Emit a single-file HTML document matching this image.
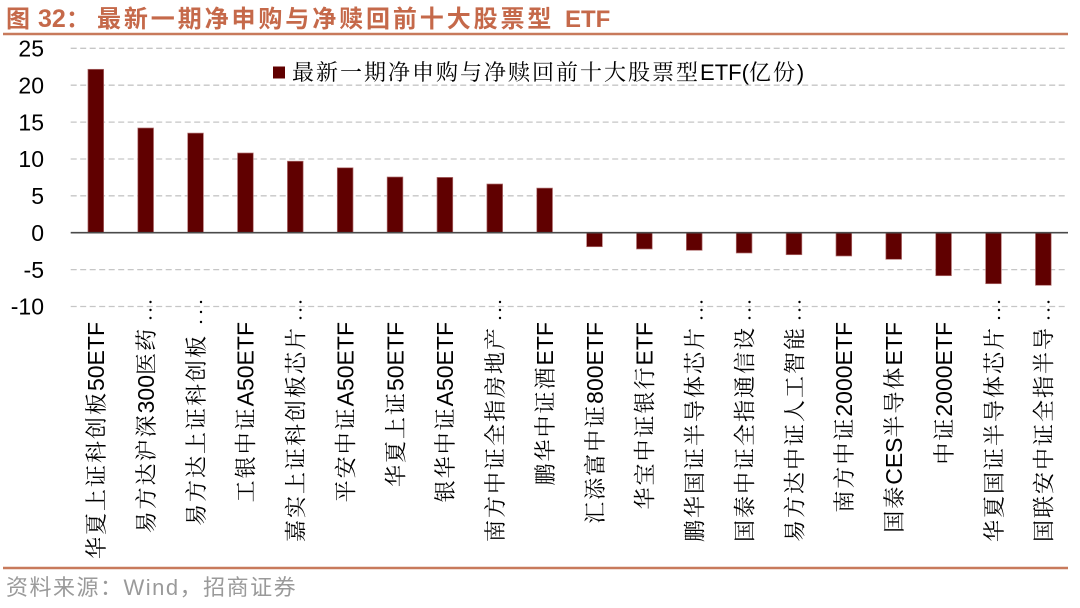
<!DOCTYPE html>
<html>
<head>
<meta charset="utf-8">
<style>
  html,body{margin:0;padding:0;background:#fff;}
  svg{display:block;}
  .lbl{font-family:"Liberation Sans","Noto Serif CJK SC","Noto Serif CJK JP","Noto Serif CJK",serif;font-size:23px;fill:#000;}
  .c{font-family:"Noto Serif CJK SC","Noto Serif CJK JP","Noto Serif CJK","Liberation Serif",serif;font-size:22px;letter-spacing:2px;}
  .yl{font-family:"Liberation Sans",sans-serif;font-size:23px;fill:#000;}
  .leg{font-family:"Liberation Sans","Noto Serif CJK SC","Noto Serif CJK JP",serif;font-size:22px;fill:#000;}
  .tt{font-family:"Liberation Sans","Noto Sans CJK SC",sans-serif;font-weight:bold;fill:#C5694A;}
  .src{font-family:"Liberation Sans","Noto Sans CJK SC",sans-serif;font-size:22px;fill:#9a9a9a;letter-spacing:1.5px;}
</style>
</head>
<body>
<svg width="1080" height="608" viewBox="0 0 1080 608" xmlns="http://www.w3.org/2000/svg">
  <rect width="1080" height="608" fill="#fff"/>

  <!-- Title -->
  <text class="tt" x="6" y="27" font-size="24">图</text>
  <text class="tt" x="38" y="27" font-size="25">32</text>
  <text class="tt" x="66" y="27" font-size="24">：</text>
  <text class="tt" x="97" y="27" font-size="24" style="letter-spacing:2.9px">最新一期净申购与净赎回前十大股票型</text>
  <text class="tt" x="565" y="27" font-size="24">ETF</text>
  <line x1="3" y1="34" x2="1068" y2="34" stroke="#C87A5C" stroke-width="2.5"/>

  <!-- Gridlines -->
  <g stroke="#C6C6C6" stroke-width="1.3" stroke-dasharray="6 3.5">
    <line x1="70.7" y1="48.3" x2="1068" y2="48.3"/>
    <line x1="70.7" y1="85.2" x2="1068" y2="85.2"/>
    <line x1="70.7" y1="122.1" x2="1068" y2="122.1"/>
    <line x1="70.7" y1="159" x2="1068" y2="159"/>
    <line x1="70.7" y1="195.8" x2="1068" y2="195.8"/>
    <line x1="70.7" y1="269.6" x2="1068" y2="269.6"/>
    <line x1="70.7" y1="306.5" x2="1068" y2="306.5"/>
  </g>

  <!-- Y labels -->
  <g class="yl" text-anchor="end">
    <text x="44" y="56.5">25</text>
    <text x="44" y="93.4">20</text>
    <text x="44" y="130.3">15</text>
    <text x="44" y="167.2">10</text>
    <text x="44" y="204">5</text>
    <text x="44" y="240.9">0</text>
    <text x="44" y="277.8">-5</text>
    <text x="44" y="314.7">-10</text>
  </g>

  <!-- Bars -->
  <g fill="#600000" stroke="#b07070" stroke-width="0.7">
    <rect x="87.95" y="69.3" width="15.7" height="163.4"/>
    <rect x="137.82" y="128.0" width="15.7" height="104.7"/>
    <rect x="187.69" y="133.1" width="15.7" height="99.6"/>
    <rect x="237.56" y="153.0" width="15.7" height="79.7"/>
    <rect x="287.43" y="161.2" width="15.7" height="71.5"/>
    <rect x="337.3" y="167.8" width="15.7" height="64.9"/>
    <rect x="387.17" y="177.0" width="15.7" height="55.7"/>
    <rect x="437.04" y="177.4" width="15.7" height="55.3"/>
    <rect x="486.91" y="184.0" width="15.7" height="48.7"/>
    <rect x="536.78" y="188.1" width="15.7" height="44.6"/>
    <rect x="586.65" y="232.7" width="15.7" height="14"/>
    <rect x="636.52" y="232.7" width="15.7" height="16.3"/>
    <rect x="686.39" y="232.7" width="15.7" height="17.6"/>
    <rect x="736.26" y="232.7" width="15.7" height="20.3"/>
    <rect x="786.13" y="232.7" width="15.7" height="22"/>
    <rect x="836.0" y="232.7" width="15.7" height="23.3"/>
    <rect x="885.87" y="232.7" width="15.7" height="26.6"/>
    <rect x="935.74" y="232.7" width="15.7" height="43"/>
    <rect x="985.61" y="232.7" width="15.7" height="51"/>
    <rect x="1035.48" y="232.7" width="15.7" height="52.6"/>
  </g>

  <!-- Zero line -->
  <line x1="70.7" y1="232.7" x2="1068" y2="232.7" stroke="#4a4a4a" stroke-width="1.6"/>

  <!-- Legend -->
  <rect x="273" y="66.5" width="12" height="12" fill="#600000"/>
  <text class="leg" x="292" y="80"><tspan class="c">最新一期净申购与净赎回前十大股票型</tspan>ETF(<tspan class="c">亿份</tspan>)</text>

  <!-- Category labels -->
  <g class="lbl" text-anchor="end">
    <text transform="translate(104.1,322) rotate(-90)"><tspan class="c">华夏上证科创板</tspan>50ETF</text>
    <text transform="translate(153.97,327) rotate(-90)"><tspan class="c">易方达沪深</tspan>300<tspan class="c">医药</tspan></text>
    <text transform="translate(203.84,334) rotate(-90)"><tspan class="c">易方达上证科创板</tspan></text>
    <text transform="translate(253.71,322) rotate(-90)"><tspan class="c">工银中证</tspan>A50ETF</text>
    <text transform="translate(303.58,326) rotate(-90)"><tspan class="c">嘉实上证科创板芯片</tspan></text>
    <text transform="translate(353.45,322) rotate(-90)"><tspan class="c">平安中证</tspan>A50ETF</text>
    <text transform="translate(403.32,322) rotate(-90)"><tspan class="c">华夏上证</tspan>50ETF</text>
    <text transform="translate(453.19,322) rotate(-90)"><tspan class="c">银华中证</tspan>A50ETF</text>
    <text transform="translate(503.06,326) rotate(-90)"><tspan class="c">南方中证全指房地产</tspan></text>
    <text transform="translate(552.93,322) rotate(-90)"><tspan class="c">鹏华中证酒</tspan>ETF</text>
    <text transform="translate(602.8,322) rotate(-90)"><tspan class="c">汇添富中证</tspan>800ETF</text>
    <text transform="translate(652.67,322) rotate(-90)"><tspan class="c">华宝中证银行</tspan>ETF</text>
    <text transform="translate(702.54,326) rotate(-90)"><tspan class="c">鹏华国证半导体芯片</tspan></text>
    <text transform="translate(752.41,326) rotate(-90)"><tspan class="c">国泰中证全指通信设</tspan></text>
    <text transform="translate(802.28,326) rotate(-90)"><tspan class="c">易方达中证人工智能</tspan></text>
    <text transform="translate(852.15,322) rotate(-90)"><tspan class="c">南方中证</tspan>2000ETF</text>
    <text transform="translate(902.02,322) rotate(-90)"><tspan class="c">国泰</tspan>CES<tspan class="c">半导体</tspan>ETF</text>
    <text transform="translate(951.89,322) rotate(-90)"><tspan class="c">中证</tspan>2000ETF</text>
    <text transform="translate(1001.76,326) rotate(-90)"><tspan class="c">华夏国证半导体芯片</tspan></text>
    <text transform="translate(1051.63,326) rotate(-90)"><tspan class="c">国联安中证全指半导</tspan></text>
  </g>

  <!-- Ellipsis dots for truncated labels -->
  <g fill="#000">
    <circle cx="150.5" cy="302" r="1.2"/><circle cx="150.5" cy="310" r="1.2"/><circle cx="150.5" cy="318" r="1.2"/>
    <circle cx="201" cy="302" r="1.2"/><circle cx="201" cy="312" r="1.2"/><circle cx="201" cy="322" r="1.2"/>
    <circle cx="300.5" cy="302" r="1.2"/><circle cx="300.5" cy="310" r="1.2"/><circle cx="300.5" cy="318" r="1.2"/>
    <circle cx="500" cy="302" r="1.2"/><circle cx="500" cy="310" r="1.2"/><circle cx="500" cy="318" r="1.2"/>
    <circle cx="701.5" cy="302" r="1.2"/><circle cx="701.5" cy="310" r="1.2"/><circle cx="701.5" cy="318" r="1.2"/>
    <circle cx="749.5" cy="302" r="1.2"/><circle cx="749.5" cy="310" r="1.2"/><circle cx="749.5" cy="318" r="1.2"/>
    <circle cx="799.5" cy="302" r="1.2"/><circle cx="799.5" cy="310" r="1.2"/><circle cx="799.5" cy="318" r="1.2"/>
    <circle cx="999" cy="302" r="1.2"/><circle cx="999" cy="310" r="1.2"/><circle cx="999" cy="318" r="1.2"/>
    <circle cx="1048.5" cy="302" r="1.2"/><circle cx="1048.5" cy="310" r="1.2"/><circle cx="1048.5" cy="318" r="1.2"/>
  </g>

  <!-- Bottom separator and source -->
  <line x1="3" y1="568" x2="1068" y2="568" stroke="#C87A5C" stroke-width="2.5"/>
  <text class="src" x="6" y="595">资料来源：Wind，招商证券</text>
</svg>
</body>
</html>
